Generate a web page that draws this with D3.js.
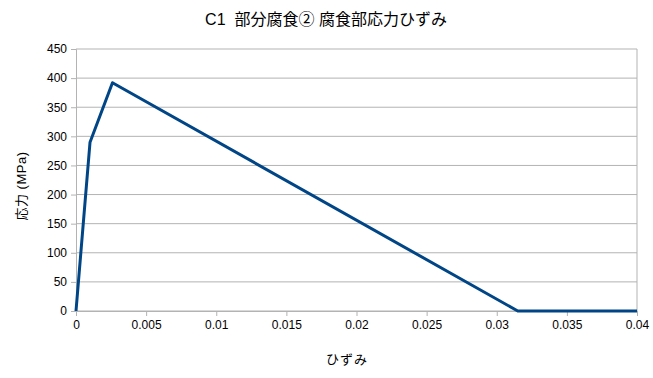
<!DOCTYPE html>
<html>
<head>
<meta charset="utf-8">
<script src="https://cdn.jsdelivr.net/npm/d3@7"></script>
<style>
  body { margin: 0; background: #fff; }
  text { font-family: "Liberation Sans", "Noto Sans CJK JP", sans-serif; }
</style>
</head>
<body>
<div class="chart"></div>
<script>
const width = 653;
const height = 378;

// strain / stress points
const strain = [0, 0.001, 0.0026, 0.0315, 0.04];
const stress = [0, 290, 392, 0, 0];
const xTicks = [0, 0.005, 0.01, 0.015, 0.02, 0.025, 0.03, 0.035, 0.04];
const yTicks = [0, 50, 100, 150, 200, 250, 300, 350, 400, 450];

const dataset = strain.map((s, i) => ({ x: s, y: stress[i] }));

const plotLeft = 76, plotRight = 637, plotTop = 49, plotBottom = 311;

const svg = d3.select(".chart").append("svg")
    .attr("width", width)
    .attr("height", height);

const xScale = d3.scaleLinear().domain([0, 0.04]).range([plotLeft, plotRight]);
const yScale = d3.scaleLinear().domain([0, 450]).range([plotBottom, plotTop]);

// Gridlines
svg.append("g")
    .selectAll("line")
    .data(yTicks)
    .enter()
    .append("line")
    .attr("x1", plotLeft)
    .attr("x2", plotRight)
    .attr("y1", d => yScale(d))
    .attr("y2", d => yScale(d))
    .attr("stroke", "#b3b3b3")
    .attr("stroke-width", 1);

svg.append("line")
    .attr("x1", plotRight).attr("x2", plotRight)
    .attr("y1", plotTop).attr("y2", plotBottom)
    .attr("stroke", "#b3b3b3");

// Axes
const xAxis = d3.axisBottom(xScale).tickValues(xTicks).tickSize(5).tickPadding(4)
    .tickFormat(d => d === 0 ? "0" : String(+d.toFixed(3)));
const yAxis = d3.axisLeft(yScale).tickValues(yTicks).tickSize(5).tickPadding(4);

const gx = svg.append("g")
    .attr("transform", `translate(0, ${plotBottom})`)
    .call(xAxis);
const gy = svg.append("g")
    .attr("transform", `translate(${plotLeft}, 0)`)
    .call(yAxis);

[gx, gy].forEach(g => {
    g.select(".domain").attr("stroke", "#b3b3b3");
    g.selectAll(".tick line").attr("stroke", "#b3b3b3");
    g.selectAll(".tick text")
        .attr("fill", "#000")
        .style("font-size", "12px")
        .style("font-family", "Liberation Sans, sans-serif");
});

// Line
const line = d3.line()
    .x(d => xScale(d.x))
    .y(d => yScale(d.y));

svg.append("path")
    .datum(dataset)
    .attr("d", line)
    .attr("fill", "none")
    .attr("stroke", "#004586")
    .attr("stroke-width", 3)
    .attr("stroke-linejoin", "round");

// Titles
svg.append("text")
    .attr("x", 326)
    .attr("y", 25)
    .attr("text-anchor", "middle")
    .style("font-size", "16px")
    .attr("xml:space", "preserve")
    .style("white-space", "pre")
    .text("C1  部分腐食② 腐食部応力ひずみ");

svg.append("text")
    .attr("x", 347)
    .attr("y", 364)
    .attr("text-anchor", "middle")
    .style("font-size", "13px")
    .style("letter-spacing", "1px")
    .text("ひずみ");

svg.append("text")
    .attr("transform", "translate(26, 186) rotate(-90)")
    .attr("text-anchor", "middle")
    .style("font-size", "13px")
    .style("letter-spacing", "0.5px")
    .text("応力 (MPa)");
</script>
</body>
</html>
